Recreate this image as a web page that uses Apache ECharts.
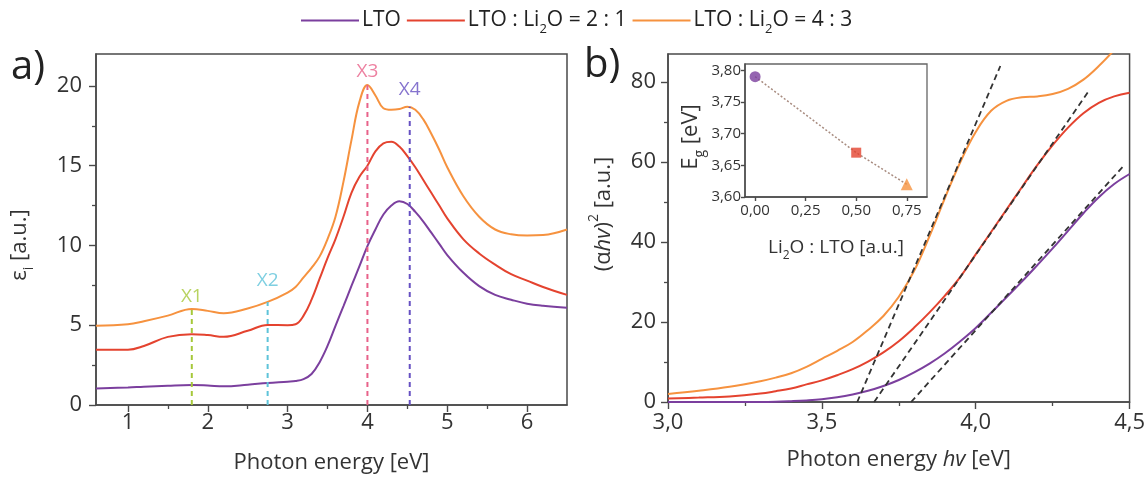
<!DOCTYPE html>
<html>
<head>
<meta charset="utf-8">
<script src="https://cdn.jsdelivr.net/npm/echarts@6/dist/echarts.min.js"></script>
<style>html,body{margin:0;padding:0;background:#fff}#c{width:1148px;height:479px}</style>
</head>
<body>
<div id="c"></div>
<script>
// ---------- data: panel a (imaginary dielectric function) ----------
const xa = [0.6,1.0,1.2,1.5,1.8,2.0,2.2,2.5,2.75,3.0,3.1,3.2,3.3,3.4,3.5,3.6,3.7,3.8,3.9,4.0,4.1,4.2,4.3,4.4,4.5,4.6,4.7,4.8,4.9,5.0,5.2,5.4,5.6,5.8,6.0,6.2,6.5];
const aLTO = [1.04,1.1,1.15,1.21,1.25,1.22,1.17,1.27,1.38,1.46,1.5,1.62,1.94,2.67,3.7,4.96,6.2,7.46,8.7,9.96,11.0,11.94,12.5,12.77,12.6,12.1,11.5,10.8,10.1,9.4,8.3,7.45,6.9,6.6,6.35,6.22,6.1];
const a21  = [3.46,3.46,3.7,4.27,4.44,4.38,4.27,4.65,5.02,5.0,5.06,5.6,6.6,7.9,9.2,10.4,11.8,13.3,14.3,15.0,15.9,16.4,16.5,16.2,15.6,14.9,14.1,13.3,12.5,11.7,10.4,9.5,8.8,8.2,7.8,7.4,6.9];
const a43  = [4.96,5.06,5.25,5.6,6.02,5.9,5.75,6.05,6.46,7.05,7.4,8.0,8.6,9.3,10.4,11.8,14.0,16.6,19.0,20.05,19.4,18.6,18.5,18.55,18.7,18.5,17.9,17.0,16.0,14.9,13.1,11.8,11.0,10.7,10.62,10.65,11.0];
const markerNames = ['X1','X2','X3','X4'];
const markerX     = [1.8, 2.75, 4.0, 4.53];
const markerTop   = [6.0, 6.46, 20.05, 18.7];
const aTicksX = [1,2,3,4,5,6];
const aMinorX = [1.5,2.5,3.5,4.5,5.5];
const aTicksY = [0,5,10,15,20];
const aMinorY = [2.5,7.5,12.5,17.5];

// ---------- data: panel b (Tauc plot) ----------
const xb = [3.0,3.1,3.2,3.3,3.35,3.4,3.45,3.5,3.55,3.6,3.65,3.7,3.75,3.8,3.85,3.9,3.95,4.0,4.05,4.1,4.15,4.2,4.25,4.3,4.35,4.4,4.45,4.5];
const bLTO = [0,0,0,0,0.05,0.2,0.4,0.7,1.2,1.9,2.8,4.0,5.5,7.4,9.6,12.2,15.2,18.5,22.3,26.2,30.1,34.2,38.4,42.8,47.2,51.2,54.5,57.0];
const b21  = [0.9,1.1,1.4,2.1,2.7,3.4,4.4,5.4,6.7,8.2,10.1,12.4,15.2,18.6,22.4,26.6,31.3,36.9,42.5,48.1,53.7,59.2,64.2,68.6,72.2,74.8,76.4,77.3];
const b43  = [2.0,2.8,3.8,5.2,6.1,7.2,8.8,10.8,12.8,15.0,18.0,21.5,26.3,32.8,41.5,51.0,60.0,67.5,72.8,75.3,76.2,76.4,77.0,78.3,80.6,84.0,88.0,92.5];
const tangLTO = [[3.79,0],[4.48,59]];
const tang21  = [[3.67,0],[4.365,77.5]];
const tang43  = [[3.615,0],[4.08,84]];
const bTicksX = [3.0,3.5,4.0,4.5];
const bMinorX = [3.25,3.75,4.25];
const bTicksY = [0,20,40,60,80];
const bMinorY = [10,30,50,70];

// ---------- data: inset (band gap) ----------
const insetRatio = [0, 0.5, 0.75];
const insetEg    = [3.79, 3.67, 3.62];
const insetTicksX = [0, 0.25, 0.5, 0.75];
const insetTicksY = [3.60, 3.65, 3.70, 3.75, 3.80];

const names = ['LTO', 'LTO : Li2O = 2 : 1', 'LTO : Li2O = 4 : 3'];
const colors = ['#7b3f9e', '#e4432f', '#f6923f'];
const markerColors = ['#a6c83a', '#5ec3d9', '#e8628a', '#6650c2'];

const FONT = 'Open Sans';
const TXT = '#333';
const AX = '#4a4a4a';
const zip = (xs, ys) => xs.map((x, i) => [x, ys[i]]);
const comma = d => v => v.toFixed(d).replace('.', ',');
function richSet(fs) {
  const s = Math.round(fs * 0.62);
  return {
    sub: {fontFamily: FONT, fontSize: s, verticalAlign: 'bottom', lineHeight: Math.round(fs * 1.5), color: TXT},
    sup: {fontFamily: FONT, fontSize: s, verticalAlign: 'top', lineHeight: Math.round(fs * 1.5), color: TXT},
    it:  {fontFamily: FONT, fontSize: fs, fontStyle: 'italic', color: TXT}
  };
}

function majorAxis(o) {
  return Object.assign({
    type: 'value',
    axisLine: {show: true, onZero: false, lineStyle: {color: AX, width: 1.5}},
    axisTick: {show: true, inside: false, length: o.tl || 7, customValues: o.ticks, lineStyle: {color: AX, width: 1.4}},
    axisLabel: {customValues: o.ticks, formatter: o.fmt, fontFamily: FONT, fontSize: o.fs || 22, color: TXT, margin: o.margin || 8},
    splitLine: {show: false},
    nameTextStyle: {fontFamily: FONT, fontSize: o.nfs || 22, color: TXT, rich: richSet(o.nfs || 22)}
  }, o.extra);
}
function minorAxis(o) {
  return Object.assign({
    type: 'value',
    axisLine: {show: false},
    axisTick: {show: true, inside: false, length: 4, customValues: o.ticks, lineStyle: {color: AX, width: 1.3}},
    axisLabel: {show: false},
    splitLine: {show: false}
  }, o.extra);
}

const series = [];
names.forEach((n, i) => {
  series.push({name: n, type: 'line', xAxisIndex: 0, yAxisIndex: 0, data: zip(xa, [aLTO, a21, a43][i]),
    smooth: 0.4, showSymbol: false, lineStyle: {color: colors[i], width: 2}, itemStyle: {color: colors[i]}, z: 3});
});
markerX.forEach((x, i) => {
  series.push({type: 'line', xAxisIndex: 0, yAxisIndex: 0, data: [[x, 0], [x, markerTop[i]]], showSymbol: false,
    lineStyle: {color: markerColors[i], width: 2, type: [5, 4]}, z: 4, silent: true});
});
series.push({type: 'scatter', xAxisIndex: 0, yAxisIndex: 0, symbolSize: 1, itemStyle: {color: 'rgba(0,0,0,0)'},
  data: markerX.map((x, i) => ({value: [x, markerTop[i]], label: {show: true, position: 'top', distance: [3, 11, 4, 7][i],
    formatter: markerNames[i], color: markerColors[i], fontFamily: FONT, fontSize: 19}})), z: 5, silent: true});

names.forEach((n, i) => {
  series.push({name: n, type: 'line', xAxisIndex: 2, yAxisIndex: 2, data: zip(xb, [bLTO, b21, b43][i]),
    smooth: 0.4, showSymbol: false, lineStyle: {color: colors[i], width: 2}, itemStyle: {color: colors[i]}, z: 3});
});
[tangLTO, tang21, tang43].forEach(t => {
  series.push({type: 'line', xAxisIndex: 2, yAxisIndex: 2, data: t, showSymbol: false,
    lineStyle: {color: '#333', width: 1.8, type: [6, 4]}, z: 4, silent: true});
});
series.push({type: 'line', xAxisIndex: 4, yAxisIndex: 4, data: zip(insetRatio, insetEg), showSymbol: false,
  lineStyle: {color: '#a88c80', width: 1.5, type: [2, 2]}, z: 6, silent: true});
series.push({type: 'scatter', xAxisIndex: 4, yAxisIndex: 4, z: 7, silent: true,
  data: insetRatio.map((x, i) => ({value: [x, insetEg[i]], symbol: ['circle', 'rect', 'triangle'][i],
    symbolSize: [11, 10, 12][i], itemStyle: {color: colors[i]}}))});

const option = {
  backgroundColor: '#fff',
  animation: false,
  legend: {
    data: names, top: 5, left: 296, icon: 'rect', itemWidth: 58, itemHeight: 2, itemGap: 6,
    formatter: n => n.replace('Li2O', 'Li{sub|2}O'),
    textStyle: {fontFamily: FONT, fontSize: 21, color: '#222', padding: [0, 0, 0, -2],
      rich: {sub: {fontFamily: FONT, fontSize: 13, verticalAlign: 'bottom', lineHeight: 31, color: '#222'}}}
  },
  grid: [
    {left: 96, top: 54, width: 471, height: 351, show: true, borderColor: AX, borderWidth: 1.5},
    {left: 668, top: 54, width: 464, height: 348, show: true, borderColor: AX, borderWidth: 1.5},
    {left: 745, top: 64, width: 182, height: 133, show: true, borderColor: '#666', borderWidth: 1.3, backgroundColor: '#fff', z: 5}
  ],
  xAxis: [
    majorAxis({ticks: aTicksX, fmt: v => String(v), margin: 7, extra: {gridIndex: 0, min: 0.6, max: 6.5, position: 'bottom',
      name: 'Photon energy [eV]', nameLocation: 'middle', nameGap: 47}}),
    minorAxis({ticks: aMinorX, extra: {gridIndex: 0, min: 0.6, max: 6.5, position: 'bottom'}}),
    majorAxis({ticks: bTicksX, fmt: comma(1), margin: 10, extra: {gridIndex: 1, min: 3.0, max: 4.5, position: 'bottom',
      name: 'Photon energy {it|hv} [eV]', nameLocation: 'middle', nameGap: 47}}),
    minorAxis({ticks: bMinorX, extra: {gridIndex: 1, min: 3.0, max: 4.5, position: 'bottom'}}),
    majorAxis({ticks: insetTicksX, fmt: comma(2), fs: 15, margin: 6, nfs: 19, tl: 4, extra: {gridIndex: 2, min: -0.05, max: 0.85, z: 6,
      position: 'bottom', name: 'Li{sub|2}O : LTO [a.u.]', nameLocation: 'middle', nameGap: 36}})
  ],
  yAxis: [
    majorAxis({ticks: aTicksY, fmt: v => String(v), margin: 14, extra: {gridIndex: 0, min: 0, max: 22, position: 'left'}}),
    minorAxis({ticks: aMinorY, extra: {gridIndex: 0, min: 0, max: 22, position: 'left'}}),
    majorAxis({ticks: bTicksY, fmt: v => String(v), margin: 12, extra: {gridIndex: 1, min: 0, max: 87, position: 'left'}}),
    minorAxis({ticks: bMinorY, extra: {gridIndex: 1, min: 0, max: 87, position: 'left'}}),
    majorAxis({ticks: insetTicksY, fmt: comma(2), fs: 15, margin: 4, tl: 4, extra: {gridIndex: 2, min: 3.6, max: 3.81, z: 6, position: 'left'}})
  ],
  graphic: [
    {type: 'text', left: 11, top: 48, style: {text: 'a)', font: '40px "Open Sans"', fill: '#222'}},
    {type: 'text', left: 584, top: 46, style: {text: 'b)', font: '40px "Open Sans"', fill: '#222'}},
    {type: 'text', x: 20, y: 245, rotation: Math.PI / 2, z: 10,
      style: {text: 'ε{sub|i} [a.u.]', fontFamily: FONT, fontSize: 22, fill: TXT, align: 'center', verticalAlign: 'middle', rich: richSet(22)}},
    {type: 'text', x: 604, y: 214, rotation: Math.PI / 2, z: 10,
      style: {text: '(α{it|hv}){sup|2} [a.u.]', fontFamily: FONT, fontSize: 22, fill: TXT, align: 'center', verticalAlign: 'middle', rich: richSet(22)}},
    {type: 'text', x: 691, y: 137, rotation: Math.PI / 2, z: 10,
      style: {text: 'E{sub|g} [eV]', fontFamily: FONT, fontSize: 22, fill: TXT, align: 'center', verticalAlign: 'middle', rich: richSet(22)}}
  ],
  series: series
};
const chart = echarts.init(document.getElementById('c'), null, {renderer: 'canvas'});
chart.setOption(option);
</script>
</body>
</html>
